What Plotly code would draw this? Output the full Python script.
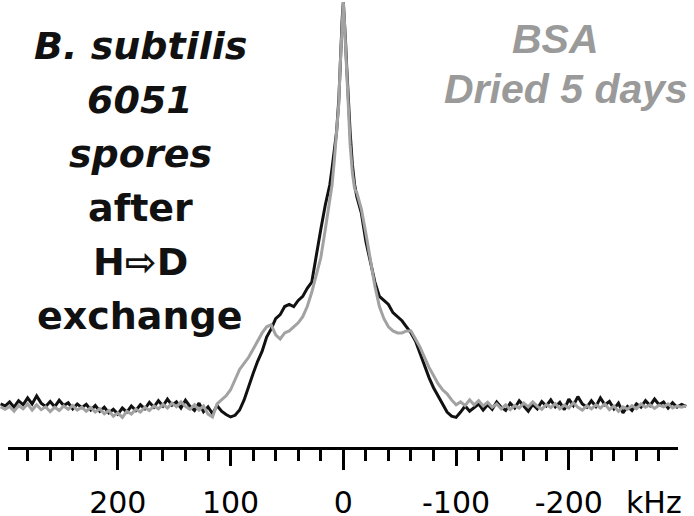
import plotly.graph_objects as go

# frequency offset (kHz), plotted high -> low like an NMR spectrum
freq_left = list(range(304, 100, -4))
freq_mid_left = list(range(100, 11, -4))
freq_center = [10, 8, 6, 4, 3, 2, 1, 0, -1, -2, -3, -4, -6, -8, -10]
freq_mid_right = list(range(-12, -101, -4))
freq_right = list(range(-104, -305, -4))

# B. subtilis spores after H->D exchange (black), intensity in % of peak
spores_left = [1.0, 0.5, 1.5, 0.2, 1.8, 0.8, 2.5, 1.0, 3.0, 1.2, 0.4, 1.6, 0.3, 1.9, 0.6, 1.3, -0.2,
               1.0, 0.1, 0.9, -0.5, 0.6, -0.8, 0.2, -1.2, -0.3, -1.5, 0.0, -1.0, 0.5, -0.6, 0.8, -0.2,
               1.4, 0.2, 1.8, 0.5, 2.2, 0.7, 1.5, 0.0, 1.9, 0.4, -0.6, 1.2, -0.9, 0.3, -1.4, 0.6, -0.8, -1.6]
spores_mid_left = [-2.2, -1.8, -0.5, 2.0, 5.5, 8.5, 11.5, 14.0, 17.5, 19.5, 22.0, 23.0, 25.0, 25.5,
                   25.0, 26.5, 27.5, 29.5, 31.0, 38.0, 44.0, 50.0, 55.0]
spores_center = [59, 63, 68, 76, 84, 90, 96, 100, 96, 90, 84, 78, 68, 60, 55]
spores_mid_right = [52, 48, 41, 36, 31, 27.5, 26.5, 25.5, 23.5, 22.5, 21.5, 20, 18.5, 16.5, 13.5,
                    10.0, 7.5, 5.0, 3.0, 1.0, -1.0, -2.0, -2.3]
spores_right = [-1.0, 0.5, -0.8, 0.2, 1.0, -0.5, 0.8, -0.3, 1.5, 0.2, -0.6, 1.2, 0.0, 1.8, 0.4, -0.8,
                0.9, -0.2, 1.6, 0.5, 2.0, 0.3, 1.4, -0.4, 2.2, 0.6, 2.8, 1.0, 0.2, 1.8, 0.4, 2.5, 0.8,
                1.6, -0.2, 1.2, -1.2, 0.4, -0.6, 1.0, 0.2, 1.8, 0.6, 2.2, 0.8, 1.5, 0.0, 1.3, 0.2, 0.9, 0.4]

# BSA dried 5 days (gray)
bsa_left = [0.3, -0.3, 0.4, -0.8, 0.6, -0.2, 1.0, -0.5, 0.8, -0.4, 0.3, -0.9, 0.2, -0.6, 0.5, -0.3,
            0.6, -0.5, 0.2, -0.8, 0.1, -1.0, -0.2, -1.4, -0.6, -2.0, -1.2, -2.3, -0.8, -1.5, -0.3, -1.0,
            0.2, -0.6, 0.5, -0.2, 0.9, 0.0, 1.2, 0.3, 1.5, 0.4, -0.3, 0.8, -0.5, 0.5, -1.5, -2.2, 1.0, 2.0, 3.0]
bsa_mid_left = [4.5, 7.0, 9.5, 11.0, 12.5, 14.5, 16.5, 18.5, 20.0, 20.5, 18.0, 17.0, 18.5, 19.0, 20.0,
                21.0, 22.5, 25.0, 28.5, 33.0, 37.0, 44.0, 52.0]
bsa_center = [55, 61, 67, 75, 83, 90, 96, 100, 95, 89, 82, 76, 65, 58, 54]
bsa_mid_right = [53, 49, 43, 36.5, 30, 25, 22, 20, 19, 18.5, 18.5, 19, 19, 17, 15, 12.5, 10, 8, 6,
                 4.5, 3.5, 2, 0.8]
bsa_right = [1.5, 0.6, 2.0, 0.8, 1.8, 0.5, 1.4, 0.2, 1.0, -0.2, 0.8, -0.4, 0.6, 0.0, 1.2, 0.3, 1.5,
             0.4, -0.3, 0.9, 0.1, 1.1, -0.2, 0.7, 0.0, 1.3, 0.2, -0.5, 0.6, -0.2, 0.8, 0.0, 1.0, -0.4,
             0.5, -0.8, 0.3, -0.3, 0.6, -0.2, 1.0, 0.2, 0.8, -0.1, 0.7, 0.3, 1.0, 0.0, 0.5, 0.2, 0.6]

tick_vals = [200, 100, 0, -100, -200]
tick_text = ["200", "100", "0", "-100", "-200"]
major_vals = [200, 0, -200]

spores_lines = ["<i>B. subtilis</i>", "<i>6051</i>", "<i>spores</i>", "after", "H⇨D", "exchange"]
bsa_lines = ["<i>BSA</i>", "<i>Dried 5 days</i>"]

freq = freq_left + freq_mid_left + freq_center + freq_mid_right + freq_right
spores = spores_left + spores_mid_left + spores_center + spores_mid_right + spores_right
bsa = bsa_left + bsa_mid_left + bsa_center + bsa_mid_right + bsa_right

W, H, PLOT_H = 694, 516, 447

fig = go.Figure()
fig.add_trace(go.Scatter(x=freq, y=spores, mode="lines", line=dict(color="#111111", width=3)))
fig.add_trace(go.Scatter(x=freq, y=bsa, mode="lines", line=dict(color="#a2a2a2", width=3)))
# empty traces so the scale axes get drawn
for ax in ["x2", "x3"]:
    fig.add_trace(go.Scatter(x=[], y=[], xaxis=ax, yaxis="y", mode="lines",
                             showlegend=False, hoverinfo="skip"))

axis_font = dict(family="DejaVu Sans", size=30, color="black")
dom = [8 / W, 678 / W]

fig.update_layout(
    width=W, height=H,
    margin=dict(l=0, r=0, t=0, b=H - PLOT_H),
    plot_bgcolor="rgba(0,0,0,0)", paper_bgcolor="white",
    showlegend=False,
    xaxis=dict(range=[304.5, -311.0], visible=False),
    yaxis=dict(range=[-9.6, 100.5], visible=False),
    xaxis2=dict(domain=dom, anchor="y", range=[297.4, -296.9], automargin=False,
                showline=True, linecolor="black", linewidth=2.5,
                ticks="outside", ticklen=16, tickwidth=2.5, tickcolor="black",
                tickmode="array", tickvals=tick_vals, ticktext=tick_text,
                tickfont=axis_font, ticklabelstandoff=11,
                minor=dict(dtick=20, tick0=0, ticks="outside", ticklen=11,
                           tickwidth=2.5, tickcolor="black", showgrid=False),
                showgrid=False, zeroline=False),
    xaxis3=dict(domain=dom, anchor="y", overlaying="x2", range=[297.4, -296.9], automargin=False,
                ticks="outside", ticklen=22, tickwidth=2.5, tickcolor="black",
                tickmode="array", tickvals=major_vals, showticklabels=False,
                showline=False, showgrid=False, zeroline=False),
)

# unit label after the last tick label
fig.add_annotation(text="kHz", xref="paper", yref="paper", x=654 / W, y=1 - 502.6 / PLOT_H,
                   showarrow=False, font=axis_font, xanchor="center", yanchor="middle")

# sample description, left (black)
for i, line in enumerate(spores_lines):
    yc = 46 + 54 * i
    fig.add_annotation(text=f"<b>{line}</b>", xref="paper", yref="paper",
                       x=140 / W, y=1 - yc / PLOT_H, showarrow=False,
                       font=dict(family="DejaVu Sans", size=38, color="#111111"),
                       xanchor="center", yanchor="middle")

# sample description, right (gray)
for line, xc, yc in zip(bsa_lines, [555, 566], [38.8, 88.8]):
    fig.add_annotation(text=f"<b>{line}</b>", xref="paper", yref="paper",
                       x=xc / W, y=1 - yc / PLOT_H, showarrow=False,
                       font=dict(family="Liberation Sans", size=41, color="#9a9a9a"),
                       xanchor="center", yanchor="middle")

fig.write_html("out.html", config={"displayModeBar": False},
               post_script="document.body.style.margin = '0';")
